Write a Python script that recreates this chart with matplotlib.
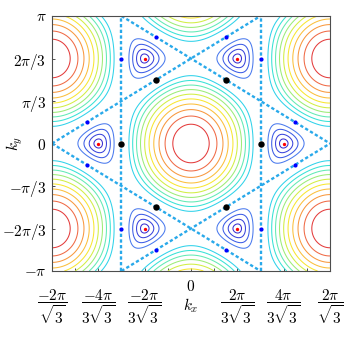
import numpy as np
import matplotlib
matplotlib.use("Agg")
import matplotlib.pyplot as plt

plt.rcParams["mathtext.fontset"] = "cm"
plt.rcParams["font.family"] = "serif"
plt.rcParams["font.serif"] = ["DejaVu Serif"]

pi = np.pi
s3 = np.sqrt(3)

# contour levels of |f(k)| (in units of t/6), the ones near the saddle value 1 are left out
level_steps = [1, 2, 3, 4, 8, 9, 10, 11, 12, 13, 14, 15, 16, 17]
level_colors = ["#3a2ed0", "#3a44dc", "#3c5ce6", "#4a7aee",
                "#30d2ea", "#38e2d6", "#62eab4", "#9cec78", "#d2ee44",
                "#f8e632", "#fbbf3c", "#f8983e", "#f06a46", "#e43c3c"]

# Dirac points (red), points marked in black and blue
k_pts_x = [4 * pi / (3 * s3), 2 * pi / (3 * s3), -2 * pi / (3 * s3), -4 * pi / (3 * s3), -2 * pi / (3 * s3), 2 * pi / (3 * s3)]
k_pts_y = [0, 2 * pi / 3, 2 * pi / 3, 0, -2 * pi / 3, -2 * pi / 3]
black_x = [pi / s3, pi / (2 * s3), -pi / (2 * s3), -pi / s3, -pi / (2 * s3), pi / (2 * s3)]
black_y = [0, pi / 2, pi / 2, 0, -pi / 2, -pi / 2]
blue_x = [s3 * pi / 2, s3 * pi / 2, -s3 * pi / 2, -s3 * pi / 2,
          pi / s3, pi / s3, -pi / s3, -pi / s3,
          pi / (2 * s3), pi / (2 * s3), -pi / (2 * s3), -pi / (2 * s3)]
blue_y = [pi / 6, -pi / 6, pi / 6, -pi / 6,
          2 * pi / 3, -2 * pi / 3, 2 * pi / 3, -2 * pi / 3,
          5 * pi / 6, -5 * pi / 6, 5 * pi / 6, -5 * pi / 6]

# dashed lines |f| = 1: (point, slope); None = vertical
dash_lines = [((pi / s3, 0), None), ((-pi / s3, 0), None),
              ((0, 2 * pi / 3), 1 / s3), ((0, -2 * pi / 3), 1 / s3),
              ((0, 2 * pi / 3), -1 / s3), ((0, -2 * pi / 3), -1 / s3)]

x_ticks = np.arange(-6, 7) * pi / (3 * s3)
x_frac_pos = [-2 * pi / s3, -4 * pi / (3 * s3), -2 * pi / (3 * s3), 2 * pi / (3 * s3), 4 * pi / (3 * s3), 2 * pi / s3]
x_frac_labels = [r"$\dfrac{-2\pi}{\sqrt{3}}$", r"$\dfrac{-4\pi}{3\sqrt{3}}$", r"$\dfrac{-2\pi}{3\sqrt{3}}$",
                 r"$\dfrac{2\pi}{3\sqrt{3}}$", r"$\dfrac{4\pi}{3\sqrt{3}}$", r"$\dfrac{2\pi}{\sqrt{3}}$"]
y_ticks = [-pi, -2 * pi / 3, -pi / 3, 0, pi / 3, 2 * pi / 3, pi]
y_labels = [r"$-\pi$", r"$-2\pi/3$", r"$-\pi/3$", r"$0$", r"$\pi/3$", r"$2\pi/3$", r"$\pi$"]

kx = np.linspace(-2 * pi / s3, 2 * pi / s3, 700)
ky = np.linspace(-pi, pi, 700)
KX, KY = np.meshgrid(kx, ky)
a1 = (s3, 0.0)
a2 = (s3 / 2, 1.5)
f = 1 + np.exp(1j * (KX * a1[0] + KY * a1[1])) + np.exp(1j * (KX * a2[0] + KY * a2[1]))
E = np.abs(f)

fig = plt.figure(figsize=(3.54, 3.46), dpi=100)
ax = fig.add_axes([52 / 354, 75 / 346, 278 / 354, 255 / 346])

levels = np.array(level_steps) / 6
ax.contour(KX, KY, E, levels=levels, colors=level_colors, linewidths=0.75)

for pt, slope in dash_lines:
    if slope is None:
        ax.axvline(pt[0], color="#29a9ea", lw=1.7, ls=(0, (1.4, 1.0)))
    else:
        ax.axline(pt, slope=slope, color="#29a9ea", lw=1.7, ls=(0, (1.4, 1.0)))

ax.plot(blue_x, blue_y, "o", color="blue", ms=3.0, mec="none")
ax.plot(black_x, black_y, "o", color="black", ms=4.6, mec="none")
ax.plot(k_pts_x, k_pts_y, "o", color="red", ms=2.4, mec="none")

ax.set_xlim(-2 * pi / s3, 2 * pi / s3)
ax.set_ylim(-pi, pi)
ax.set_xticks(x_ticks)
ax.set_xticklabels(["$0$" if abs(t) < 1e-9 else "" for t in x_ticks], fontsize=11)
ax.set_yticks(y_ticks)
ax.set_yticklabels(y_labels, fontsize=11)
ax.tick_params(direction="in", length=2.5, width=0.6, pad=4, color="0.2")
ax.tick_params(axis="x", pad=6)
for sp in ax.spines.values():
    sp.set_color("0.3")
    sp.set_linewidth(0.8)

xt = ax.get_xaxis_transform()
for xp, lab in zip(x_frac_pos, x_frac_labels):
    ax.text(xp, -0.14, lab, transform=xt, ha="center", va="center", fontsize=11)
ax.text(0, -0.135, r"$k_x$", transform=xt, ha="center", va="center", fontsize=11)
ax.text(-0.135, 0.5, r"$k_y$", transform=ax.transAxes, rotation=90, ha="center", va="center", fontsize=11)

fig.savefig("out.png", dpi=100)
